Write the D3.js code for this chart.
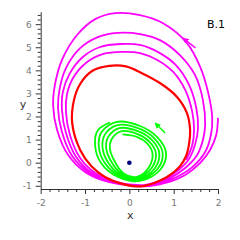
<!DOCTYPE html>
<html><head><meta charset="utf-8">
<script src="https://cdn.jsdelivr.net/npm/d3@7"></script>
<style>body{margin:0;background:#fff}svg{display:block}</style>
</head><body>
<svg id="c" width="240" height="240"></svg>
<script>
const xMajor = [-2, -1, 0, 1, 2];
const yMajor = [-1, 0, 1, 2, 3, 4, 5, 6];
const xLabels = ["-2", "-1", "0", "1", "2"];
const yLabels = ["-1", "0", "1", "2", "3", "4", "5", "6"];
const panelLabel = "B.1";
const equilibrium = [[0, 0]];

// limit cycle (red, closed)
const limitCycle = [
  [1.37,1.42],[1.35,0.85],[1.28,0.29],[1.14,-0.16],[0.85,-0.62],[0.53,-0.90],[0.24,-1.03],
  [-0.16,-0.92],[-0.55,-0.62],[-0.85,-0.17],[-1.11,0.55],[-1.29,1.72],[-1.25,2.71],
  [-1.11,3.41],[-0.84,3.97],[-0.45,4.19],[-0.08,4.17],[0.26,3.90],[0.69,3.45],[1.07,2.86],[1.30,2.15]
];

// outer trajectory (magenta)
const outerPath = [
  [2.00,1.94],[1.96,1.20],[1.82,0.55],[1.60,-0.01],[1.26,-0.53],[0.81,-0.88],[0.35,-1.03],
  [-0.55,-0.79],[-1.00,-0.40],[-1.38,0.33],[-1.63,1.42],[-1.72,2.50],[-1.68,3.36],[-1.52,4.45],
  [-1.18,5.53],[-0.77,6.22],[-0.32,6.48],[0.24,6.39],[0.76,6.04],[1.30,5.18],[1.60,4.14],
  [1.78,3.02],[1.87,1.94],[1.84,1.20],[1.71,0.46],[1.42,-0.19],[0.96,-0.71],[0.47,-0.97],
  [-0.48,-0.79],[-0.93,-0.40],[-1.29,0.29],[-1.52,1.33],[-1.61,2.37],[-1.57,3.23],[-1.43,4.10],
  [-1.11,4.96],[-0.71,5.44],[-0.26,5.62],[0.24,5.57],[0.69,5.31],[1.14,4.66],[1.48,3.80],
  [1.66,2.71],[1.71,1.63],[1.66,0.98],[1.53,0.33],[1.26,-0.23],[0.87,-0.71],[0.42,-0.97],
  [-0.44,-0.79],[-0.84,-0.45],[-1.20,0.25],[-1.43,1.29],[-1.52,2.28],[-1.50,3.06],[-1.34,3.88],
  [-1.05,4.58],[-0.66,5.01],[-0.21,5.14],[0.24,5.10],[0.65,4.79],[1.05,4.23],[1.35,3.36],
  [1.51,2.37],[1.55,1.50],[1.48,0.77],[1.33,0.12],[1.05,-0.40],[0.69,-0.79],[0.31,-0.97],
  [-0.39,-0.79],[-0.77,-0.45],[-1.11,0.20],[-1.34,1.20],[-1.43,2.19],[-1.41,2.93],[-1.27,3.67],
  [-0.98,4.32],[-0.59,4.71],[-0.16,4.80],[0.24,4.75],[0.63,4.45],[0.99,3.93],[1.26,3.15],
  [1.42,2.19],[1.46,1.42],[1.42,0.77],[1.28,0.12]
];

// inner trajectory (green)
const innerPath = [
  [-0.156,1.225],[0.169,1.121],[0.400,0.836],[0.521,0.420],[0.440,-0.208],[0.169,-0.610],[-0.129,-0.463],[-0.359,0.160],[-0.440,0.628],[-0.400,1.017],
  [-0.192,1.359],[0.187,1.238],[0.456,0.905],[0.598,0.420],[0.503,-0.234],[0.187,-0.658],[-0.160,-0.506],[-0.429,0.117],[-0.524,0.662],[-0.476,1.117],
  [-0.228,1.494],[0.205,1.355],[0.512,0.974],[0.675,0.420],[0.567,-0.264],[0.205,-0.706],[-0.192,-0.545],[-0.499,0.074],[-0.607,0.697],[-0.553,1.216],
  [-0.264,1.628],[0.223,1.472],[0.569,1.043],[0.752,0.420],[0.630,-0.286],[0.223,-0.745],[-0.223,-0.576],[-0.569,0.030],[-0.691,0.732],[-0.630,1.316],
  [-0.300,1.762],[0.242,1.589],[0.625,1.113],[0.828,0.420],[0.693,-0.316],[0.242,-0.792],[-0.255,-0.619],[-0.639,-0.013],[-0.774,0.766],[-0.707,1.416],
  [-0.436,1.740]
];

const outerArrow = [[1.49,4.97],[1.21,5.40]];
const innerArrow = [[0.806,1.286],[0.580,1.719]];

const svg = d3.select("#c");
const x = d3.scaleLinear().domain([-2, 2]).range([40.7, 218]);
const y = d3.scaleLinear().domain([-1.14, 6.54]).range([189, 11.7]);

const defs = svg.append("defs");
function marker(id, color) {
  defs.append("marker").attr("id", id).attr("viewBox", "0 0 10 10")
    .attr("refX", 9).attr("refY", 5).attr("markerWidth", 6).attr("markerHeight", 6)
    .attr("markerUnits", "userSpaceOnUse").attr("orient", "auto")
    .append("path").attr("d", "M0,0L10,5L0,10z").attr("fill", color);
}
marker("am", "#ff00ff");
marker("ag", "#00ff00");

// axes
const minorX = d3.range(-20, 21, 2).map(v => v / 10).filter(v => !xMajor.includes(v));
const minorY = d3.range(-10, 65, 2).map(v => v / 10).filter(v => !yMajor.includes(v));
const axisColor = "#333";
const gx = svg.append("g").attr("transform", `translate(0,189)`);
gx.call(d3.axisBottom(x).tickValues(xMajor).tickSize(5).tickSizeOuter(0).tickFormat((d,i)=>xLabels[i]));
gx.append("g").call(d3.axisBottom(x).tickValues(minorX).tickSize(3).tickFormat(""))
  .select(".domain").remove();
const gy = svg.append("g").attr("transform", `translate(40.7,0)`);
gy.call(d3.axisLeft(y).tickValues(yMajor).tickSize(5).tickSizeOuter(0).tickFormat((d,i)=>yLabels[i]));
gy.append("g").call(d3.axisLeft(y).tickValues(minorY).tickSize(3).tickFormat(""))
  .select(".domain").remove();
svg.selectAll(".domain, .tick line").attr("stroke", axisColor).attr("stroke-width", 1);
svg.selectAll(".tick text").attr("fill", "#777").attr("font-family", "DejaVu Sans, sans-serif").attr("font-size", 9);
gx.selectAll(".tick text").attr("dy", "0.95em");
gy.selectAll(".tick text").attr("dx", "-0.1em");

svg.append("text").attr("x", x(0) + 1).attr("y", 219).attr("text-anchor", "middle")
  .attr("font-family", "DejaVu Sans, sans-serif").attr("font-size", 11).attr("fill", "#333").text("x");
svg.append("text").attr("x", 23).attr("y", 108).attr("text-anchor", "middle")
  .attr("font-family", "DejaVu Sans, sans-serif").attr("font-size", 11).attr("fill", "#333").text("y");
svg.append("text").attr("x", 207).attr("y", 28)
  .attr("font-family", "DejaVu Sans, sans-serif").attr("font-size", 11).attr("fill", "#000").text(panelLabel);

const line = d3.line().x(d => x(d[0])).y(d => y(d[1])).curve(d3.curveCatmullRom.alpha(0.5));
const closed = d3.line().x(d => x(d[0])).y(d => y(d[1])).curve(d3.curveCatmullRomClosed.alpha(0.5));

svg.append("path").attr("d", line(outerPath)).attr("fill", "none").attr("stroke", "#ff00ff").attr("stroke-width", 1.8);
svg.append("path").attr("d", line(innerPath)).attr("fill", "none").attr("stroke", "#00ff00").attr("stroke-width", 1.8);
svg.append("path").attr("d", closed(limitCycle)).attr("fill", "none").attr("stroke", "#ff0000").attr("stroke-width", 2.2);

const straight = d3.line().x(d => x(d[0])).y(d => y(d[1]));
svg.append("path").attr("d", straight(outerArrow)).attr("stroke", "#ff00ff").attr("stroke-width", 1.5).attr("marker-end", "url(#am)");
svg.append("path").attr("d", straight(innerArrow)).attr("stroke", "#00ff00").attr("stroke-width", 1.5).attr("marker-end", "url(#ag)");

svg.selectAll("circle.eq").data(equilibrium).join("circle").attr("class", "eq")
  .attr("cx", d => x(d[0])).attr("cy", d => y(d[1])).attr("r", 2.3).attr("fill", "#000080");
</script>
</body></html>
